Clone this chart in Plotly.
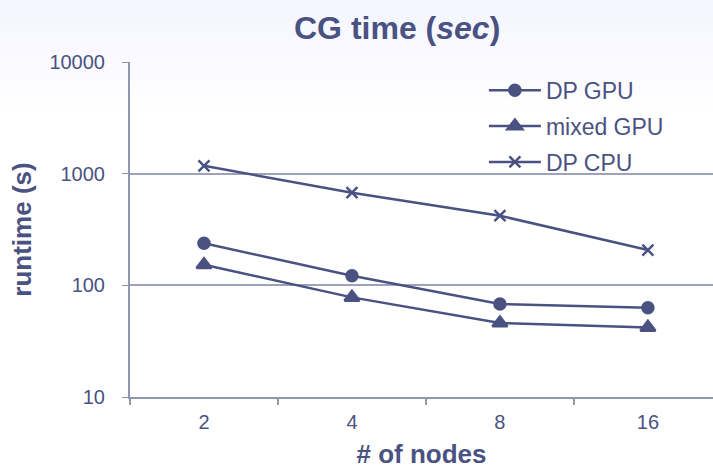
import plotly.graph_objects as go

nodes = ["2", "4", "8", "16"]
dp_gpu = [238, 122, 68, 63]
mixed_gpu = [153, 78, 46, 42]
dp_cpu = [1175, 675, 420, 207]

C = "#4a5282"
fig = go.Figure()
series = [("DP GPU", dp_gpu, "circle", 11), ("mixed GPU", mixed_gpu, "triangle-up", 13), ("DP CPU", dp_cpu, "x-thin-open", 11)]
for name, vals, sym, sz in series:
    fig.add_trace(go.Scatter(
        x=nodes, y=vals, name=name, mode="lines+markers", legendgroup=name,
        line=dict(color=C, width=2.5),
        marker=dict(symbol=sym, size=sz, color=C, line=dict(color=C, width=2.5)),
    ))

shapes = []
for i in range(10):
    shapes.append(dict(type="rect", xref="paper", yref="paper", x0=-0.25, x1=1.05,
                       y0=(397 - (i + 1) * 11) / 335.0, y1=1.25, fillcolor="#e8f0ff", opacity=0.06,
                       line=dict(width=0), layer="below"))

fig.update_layout(
    width=713, height=469,
    margin=dict(l=130, r=0, t=62, b=72),
    paper_bgcolor="white", plot_bgcolor="rgba(0,0,0,0)",
    font=dict(family="Arial, Liberation Sans, sans-serif", color=C, size=20),
    title=dict(text="<b>CG time (<i>sec</i>)</b>", xref="container", x=0.557, xanchor="center",
               yref="container", y=0.94, yanchor="middle",
               font=dict(size=32, color=C)),
    showlegend=True,
    legend=dict(x=0.607, y=0.98, xanchor="left", yanchor="top", bgcolor="rgba(0,0,0,0)",
                font=dict(size=23, color=C), tracegroupgap=3, traceorder="grouped", itemwidth=52),
    shapes=shapes,
    xaxis=dict(type="category", range=[-0.5, 3.44], showgrid=False, showline=True, automargin=False,
               linecolor="#9096b0", linewidth=2, ticks="outside", tickson="boundaries",
               ticklen=6, tickcolor="#9096b0", tickwidth=1.5, ticklabelstandoff=6,
               title=dict(text="<b># of nodes</b>", font=dict(size=26, color=C), standoff=30),
               tickfont=dict(size=20, color=C)),
    yaxis=dict(type="log", range=[1, 4], showgrid=True, gridcolor="#9ea2b8", gridwidth=1.5,
               showline=True, linecolor="#9096b0", linewidth=2, ticks="outside", ticklen=6,
               automargin=False,
               tickcolor="#9096b0", tickvals=[10, 100, 1000, 10000], ticklabelstandoff=13,
               ticktext=["10", "100", "1000", "10000"], zeroline=False,
               title=dict(text="<b>runtime (s)</b>", font=dict(size=26, color=C), standoff=10),
               tickfont=dict(size=20, color=C)),
)
fig.write_html("out.html")
